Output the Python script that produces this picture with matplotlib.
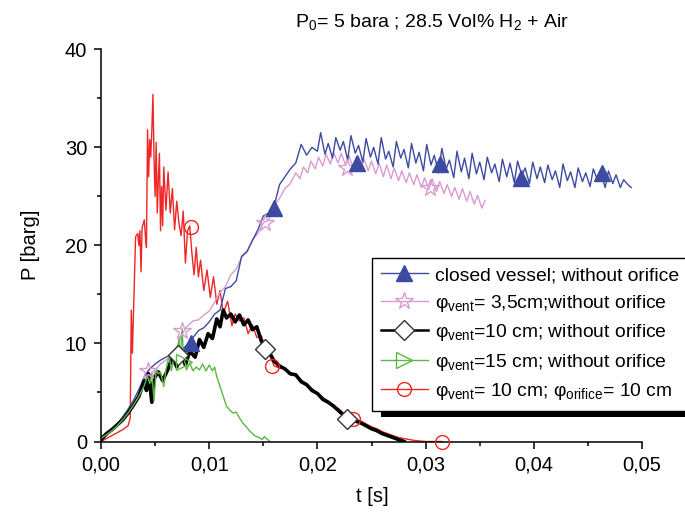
import matplotlib

matplotlib.use("Agg")
import matplotlib.pyplot as plt
from matplotlib.lines import Line2D
from matplotlib.patches import Rectangle

# closed vessel, without orifice
blue_t = [
    0.0000, 0.0005, 0.0010, 0.0015, 0.0020, 0.0025, 0.0030, 0.0035, 0.0040, 0.0045,
    0.0050, 0.0055, 0.0060, 0.0065, 0.0070, 0.0075, 0.0080, 0.0085, 0.0090, 0.0095,
    0.0100, 0.0105, 0.0110, 0.0115, 0.0120, 0.0125, 0.0130, 0.0135, 0.0140, 0.0145,
    0.0150, 0.0155, 0.0160, 0.0165, 0.0170, 0.0175, 0.0180, 0.0185, 0.0190, 0.0195,
    0.0200, 0.0203, 0.0207, 0.0210, 0.0214, 0.0217, 0.0221, 0.0224, 0.0228, 0.0231,
    0.0235, 0.0238, 0.0242, 0.0245, 0.0249, 0.0252, 0.0256, 0.0259, 0.0263, 0.0266,
    0.0270, 0.0273, 0.0277, 0.0280, 0.0284, 0.0287, 0.0291, 0.0294, 0.0298, 0.0301,
    0.0305, 0.0308, 0.0312, 0.0315, 0.0319, 0.0322, 0.0326, 0.0329, 0.0333, 0.0336,
    0.0340, 0.0343, 0.0347, 0.0350, 0.0354, 0.0357, 0.0361, 0.0364, 0.0368, 0.0371,
    0.0375, 0.0378, 0.0382, 0.0385, 0.0389, 0.0392, 0.0396, 0.0399, 0.0403, 0.0406,
    0.0410, 0.0413, 0.0417, 0.0420, 0.0424, 0.0427, 0.0431, 0.0434, 0.0438, 0.0441,
    0.0445, 0.0448, 0.0452, 0.0455, 0.0459, 0.0462, 0.0466, 0.0469, 0.0473, 0.0476,
    0.0480, 0.0483, 0.0487, 0.0490,
]
blue_p = [
    0.0, 0.6, 1.2, 1.8, 2.5, 3.3, 4.2, 5.3, 6.6, 7.4,
    7.9, 8.3, 8.6, 8.9, 9.2, 9.4, 9.9, 10.6, 11.3, 11.6,
    12.2, 13.0, 13.4, 15.6, 15.8, 16.4, 18.9, 19.4, 20.5, 21.6,
    23.0, 23.3, 24.0, 26.2, 27.0, 27.8, 28.4, 30.3, 29.2, 30.0,
    29.6, 31.5, 29.3, 30.4, 28.9, 31.0, 29.7, 30.6, 28.7, 31.2,
    29.4, 30.2, 28.5, 30.9, 29.0, 30.0, 28.3, 31.0, 28.8, 29.6,
    28.0, 30.6, 28.9, 29.8, 27.9, 30.4, 28.4, 29.5, 27.6, 30.3,
    28.2, 29.2, 27.4, 29.9, 27.8, 28.7, 26.9, 29.6, 27.5, 28.9,
    26.8, 29.4, 27.3, 28.5, 26.7, 29.0, 27.4, 28.3, 26.5, 28.8,
    27.0, 28.4, 26.4, 28.6, 27.1, 27.9, 26.3, 28.5, 26.8, 28.0,
    26.4, 28.2, 26.7, 27.6, 25.9, 28.3, 26.6, 27.5, 25.9, 27.9,
    26.5, 27.4, 26.0, 27.8, 26.6, 27.3, 25.9, 27.6, 26.3, 27.2,
    25.9, 26.7, 26.2, 25.9,
]
blue_mark_t = [0.0083, 0.0160, 0.0237, 0.0313, 0.0388, 0.0463]
blue_mark_p = [10.0, 23.8, 28.4, 28.3, 26.9, 27.4]

# vent 3,5 cm, without orifice
pink_t = [
    0.0000, 0.0005, 0.0010, 0.0015, 0.0020, 0.0025, 0.0030, 0.0035, 0.0040, 0.0043,
    0.0046, 0.0050, 0.0055, 0.0060, 0.0065, 0.0070, 0.0075, 0.0080, 0.0085, 0.0090,
    0.0095, 0.0100, 0.0105, 0.0110, 0.0115, 0.0120, 0.0125, 0.0130, 0.0135, 0.0140,
    0.0145, 0.0150, 0.0155, 0.0160, 0.0165, 0.0170, 0.0175, 0.0180, 0.0184, 0.0187,
    0.0191, 0.0194, 0.0198, 0.0201, 0.0205, 0.0208, 0.0212, 0.0215, 0.0219, 0.0222,
    0.0226, 0.0229, 0.0233, 0.0236, 0.0240, 0.0243, 0.0247, 0.0250, 0.0254, 0.0257,
    0.0261, 0.0264, 0.0268, 0.0271, 0.0275, 0.0278, 0.0282, 0.0285, 0.0289, 0.0292,
    0.0296, 0.0299, 0.0303, 0.0306, 0.0310, 0.0313, 0.0317, 0.0320, 0.0324, 0.0327,
    0.0331, 0.0334, 0.0338, 0.0341, 0.0345, 0.0348, 0.0352, 0.0355,
]
pink_p = [
    0.5, 0.9, 1.3, 1.8, 2.4, 3.1, 3.9, 4.9, 6.0, 7.2,
    5.5, 7.3, 7.9, 8.3, 8.8, 9.6, 11.0, 11.8, 12.3, 12.4,
    12.9, 13.3, 14.2, 15.2, 15.8, 17.0, 17.6, 18.8, 19.3, 20.6,
    21.2, 22.3, 22.6, 24.0, 24.8, 25.8, 26.3, 27.4, 26.8, 28.0,
    27.4, 28.6, 27.8, 29.0, 28.1, 29.3, 28.3, 29.5, 28.4, 29.4,
    28.2, 29.2, 27.9, 29.0, 27.7, 28.8, 27.6, 28.6, 27.3, 28.4,
    27.0, 28.2, 26.8, 27.9, 26.6, 27.6, 26.4, 27.4, 26.2, 27.2,
    25.9, 26.9, 25.7, 26.8, 25.5, 26.5, 25.3, 26.2, 25.0, 25.9,
    24.7, 25.8, 24.5, 25.5, 24.2, 25.1, 23.8, 24.6,
]
pink_mark_t = [0.0043, 0.0075, 0.0152, 0.0227, 0.0304]
pink_mark_p = [7.2, 11.3, 22.3, 27.9, 25.9]

# vent 10 cm, without orifice
black_t = [
    0.0000, 0.0005, 0.0010, 0.0015, 0.0020, 0.0025, 0.0030, 0.0035, 0.0040, 0.0042,
    0.0044, 0.0047, 0.0049, 0.0053, 0.0057, 0.0062, 0.0066, 0.0070, 0.0074, 0.0078,
    0.0082, 0.0087, 0.0091, 0.0095, 0.0099, 0.0103, 0.0107, 0.0110, 0.0113, 0.0116,
    0.0120, 0.0124, 0.0128, 0.0132, 0.0136, 0.0140, 0.0144, 0.0148, 0.0152, 0.0156,
    0.0160, 0.0165, 0.0170, 0.0175, 0.0180, 0.0185, 0.0190, 0.0195, 0.0200, 0.0205,
    0.0210, 0.0215, 0.0220, 0.0225, 0.0230, 0.0235, 0.0240, 0.0245, 0.0250, 0.0255,
    0.0260, 0.0265, 0.0270, 0.0275, 0.0280,
]
black_p = [
    0.2, 0.8, 1.2, 1.7, 2.2, 2.9, 3.7, 4.6, 6.2, 5.2,
    6.9, 4.0, 6.4, 7.1, 6.2, 7.4, 8.6, 7.6, 9.0, 7.8,
    9.2, 8.6, 10.4, 9.6, 11.0, 10.5, 12.5, 11.7, 13.4, 12.6,
    13.0, 12.2, 12.9, 11.9, 12.4, 11.4, 11.7, 10.3, 9.4, 9.0,
    8.2, 7.7, 7.4, 6.9, 6.8, 6.1, 5.8, 5.2, 4.9, 4.3,
    4.0, 3.6, 3.1, 2.6, 2.4, 2.1, 1.9, 1.6, 1.3, 1.1,
    0.8, 0.6, 0.4, 0.2, 0.0,
]
black_mark_t = [0.0071, 0.0152, 0.0227]
black_mark_p = [8.8, 9.4, 2.3]

# vent 15 cm, without orifice
green_t = [
    0.0000, 0.0005, 0.0010, 0.0015, 0.0020, 0.0025, 0.0030, 0.0035, 0.0040, 0.0043,
    0.0045, 0.0047, 0.0049, 0.0051, 0.0053, 0.0055, 0.0058, 0.0060, 0.0063, 0.0065,
    0.0068, 0.0070, 0.0072, 0.0073, 0.0075, 0.0076, 0.0079, 0.0082, 0.0085, 0.0088,
    0.0091, 0.0094, 0.0097, 0.0100, 0.0103, 0.0105, 0.0107, 0.0110, 0.0113, 0.0116,
    0.0119, 0.0122, 0.0125, 0.0128, 0.0131, 0.0135, 0.0138, 0.0142, 0.0146, 0.0149,
    0.0151, 0.0153, 0.0156,
]
green_p = [
    0.3, 0.7, 1.1, 1.6, 2.2, 2.9, 3.7, 4.6, 5.7, 6.7,
    5.9, 7.0, 4.2, 7.3, 6.9, 7.1, 5.6, 7.3, 8.8, 7.2,
    9.0, 8.2, 10.5, 8.0, 11.5, 9.0, 7.3, 8.0, 7.2, 7.6,
    7.3, 7.9, 7.2, 7.8, 7.2, 7.6, 6.6, 5.6, 4.6, 3.6,
    3.2, 2.9, 3.0, 2.4, 1.9, 1.4, 1.0, 0.6, 0.4, 0.2,
    0.5, 0.3, 0.0,
]
green_mark_t = [0.0077]
green_mark_p = [8.1]

# vent 10 cm, orifice 10 cm
red_t = [
    0.0000, 0.0005, 0.0010, 0.0015, 0.0020, 0.0025, 0.0027, 0.0028, 0.0029, 0.0031,
    0.0032, 0.0034, 0.0035, 0.0036, 0.0037, 0.0038, 0.0040, 0.0041, 0.0042, 0.0043,
    0.0044, 0.0045, 0.0046, 0.0047, 0.0048, 0.0049, 0.0050, 0.0051, 0.0052, 0.0053,
    0.0054, 0.0055, 0.0056, 0.0057, 0.0058, 0.0060, 0.0062, 0.0064, 0.0066, 0.0068,
    0.0070, 0.0072, 0.0074, 0.0076, 0.0078, 0.0080, 0.0082, 0.0084, 0.0086, 0.0088,
    0.0090, 0.0092, 0.0095, 0.0098, 0.0101, 0.0104, 0.0107, 0.0110, 0.0113, 0.0117,
    0.0121, 0.0124, 0.0128, 0.0132, 0.0136, 0.0140, 0.0144, 0.0148, 0.0152, 0.0156,
    0.0160, 0.0165, 0.0170, 0.0175, 0.0180, 0.0185, 0.0190, 0.0195, 0.0200, 0.0205,
    0.0210, 0.0215, 0.0220, 0.0225, 0.0230, 0.0235, 0.0240, 0.0245, 0.0250, 0.0255,
    0.0260, 0.0265, 0.0270, 0.0275, 0.0280, 0.0285, 0.0290, 0.0300, 0.0315,
]
red_p = [
    0.0, 0.3, 0.6, 0.9, 1.2, 1.6, 2.4, 13.4, 9.0, 17.0,
    20.9, 21.2, 20.0, 21.5, 17.3, 21.8, 22.6, 21.0, 19.8, 31.8,
    27.0, 30.8, 29.0, 31.8, 35.4, 29.0, 25.0, 30.5, 23.3, 26.7,
    29.4, 21.5, 26.0, 22.0, 28.0, 23.6, 27.5, 23.3, 25.8, 21.6,
    24.5, 22.3, 21.0, 23.5, 18.2, 21.5, 22.0, 19.2, 17.0, 19.8,
    16.8, 18.5, 15.4, 17.5, 14.7, 16.8, 14.0, 15.4, 13.1, 14.3,
    11.8, 13.0, 12.3, 12.6, 11.0, 11.9, 10.6, 10.8, 9.6, 8.8,
    7.7, 7.5, 7.4, 7.0, 6.7, 6.3, 5.8, 5.4, 4.9, 4.5,
    4.1, 3.7, 3.3, 2.8, 2.6, 2.3, 2.1, 1.8, 1.5, 1.3,
    1.0, 0.8, 0.6, 0.4, 0.3, 0.2, 0.1, 0.0, 0.0,
]
red_mark_t = [0.0083, 0.0158, 0.0233, 0.0315]
red_mark_p = [21.9, 7.7, 2.3, 0.0]

x_ticks = [0.00, 0.01, 0.02, 0.03, 0.04, 0.05]
x_tick_labels = ["0,00", "0,01", "0,02", "0,03", "0,04", "0,05"]
y_ticks = [0, 10, 20, 30, 40]
y_tick_labels = ["0", "10", "20", "30", "40"]

labels = [
    "closed vessel; without orifice",
    r"φ$_{\mathrm{vent}}$= 3,5cm;without orifice",
    r"φ$_{\mathrm{vent}}$=10 cm; without orifice",
    r"φ$_{\mathrm{vent}}$=15 cm; without orifice",
    r"φ$_{\mathrm{vent}}$= 10 cm; φ$_{\mathrm{orifice}}$= 10 cm",
]

BLUE = "#3d4aa2"
PINK = "#d99bd0"
GREEN = "#5ab843"
RED = "#ee2624"

plt.rcParams["font.family"] = ["Liberation Sans", "DejaVu Sans"]
plt.rcParams["mathtext.fontset"] = "custom"
plt.rcParams["mathtext.rm"] = "Liberation Sans"
plt.rcParams["mathtext.it"] = "Liberation Sans:italic"


def main() -> None:
    fig = plt.figure(figsize=(6.85, 5.12), dpi=100)
    ax = fig.add_axes([101 / 685, 1 - 441.5 / 512, 541 / 685, 392.2 / 512])

    ax.plot(red_t, red_p, color=RED, lw=1.0, zorder=2)
    ax.plot(pink_t, pink_p, color=PINK, lw=1.0, zorder=2.1)
    ax.plot(blue_t, blue_p, color=BLUE, lw=1.0, zorder=2.2)
    ax.plot(black_t, black_p, color="black", lw=2.6, zorder=2.3)
    ax.plot(green_t, green_p, color=GREEN, lw=1.0, zorder=2.4)

    ax.plot(red_mark_t, red_mark_p, ls="none", marker="o", ms=10, mfc="none", mec=RED, mew=1.0, zorder=3, clip_on=False)
    ax.plot(pink_mark_t, pink_mark_p, ls="none", marker="*", ms=13, mfc="none", mec=PINK, mew=1.0, zorder=3)
    ax.plot(blue_mark_t, blue_mark_p, ls="none", marker="^", ms=11, mfc=BLUE, mec=BLUE, zorder=3)
    ax.plot(black_mark_t, black_mark_p, ls="none", marker="D", ms=10, mfc="white", mec="#333333", mew=1.0, zorder=3)
    ax.plot(green_mark_t, green_mark_p, ls="none", marker=">", ms=11, mfc="none", mec=GREEN, mew=1.0, zorder=3)

    ax.set_xlim(0, 0.05)
    ax.set_ylim(0, 40)
    ax.set_xticks(x_ticks)
    ax.set_xticklabels(x_tick_labels)
    ax.set_yticks(y_ticks)
    ax.set_yticklabels(y_tick_labels)
    ax.set_xticks([0.005, 0.015, 0.025, 0.035, 0.045], minor=True)
    ax.set_yticks([5, 15, 25, 35], minor=True)
    ax.tick_params(which="major", direction="out", length=5, width=1.1, labelsize=14.5, pad=5)
    ax.tick_params(which="minor", direction="out", length=3, width=1.1)
    ax.spines["top"].set_visible(False)
    ax.spines["right"].set_visible(False)
    ax.spines["left"].set_linewidth(1.1)
    ax.spines["bottom"].set_linewidth(1.1)

    fig.text(432 / 685, 1 - 22 / 512, r"P$_0$= 5 bara ; 28.5 Vol% H$_2$ + Air", ha="center", va="center", fontsize=14)
    fig.text(30 / 685, 1 - 245 / 512, "P [barg]", rotation=90, ha="center", va="center", fontsize=14.5)
    fig.text(372 / 685, 1 - 497 / 512, "t [s]", ha="center", va="center", fontsize=14.5)

    handles = [
        Line2D([], [], color=BLUE, lw=1.0, marker="^", ms=11, mfc=BLUE, mec=BLUE),
        Line2D([], [], color=PINK, lw=1.0, marker="*", ms=13, mfc="none", mec=PINK),
        Line2D([], [], color="black", lw=1.8, marker="D", ms=10, mfc="white", mec="#333333"),
        Line2D([], [], color=GREEN, lw=1.0, marker=">", ms=11, mfc="none", mec=GREEN),
        Line2D([], [], color=RED, lw=1.0, marker="o", ms=10, mfc="none", mec=RED),
    ]
    leg = fig.legend(
        handles, labels,
        loc="upper left", bbox_to_anchor=(372 / 685, 1 - 258 / 512), borderaxespad=0,
        fontsize=13.9, frameon=True, fancybox=False, edgecolor="black", framealpha=1,
        handlelength=2.45, handletextpad=0.37, labelspacing=0.44, borderpad=0.45,
    )
    leg.get_frame().set_linewidth(1.0)

    # solid black drop shadow, offset right/down, drawn under the legend
    fig.canvas.draw()
    box = leg.get_window_extent(fig.canvas.get_renderer())
    shadow = Rectangle(
        ((box.x0 + 9) / 685, (box.y0 - 6) / 512), box.width / 685, box.height / 512,
        transform=fig.transFigure, facecolor="black", edgecolor="none", lw=0, zorder=4,
    )
    fig.patches.append(shadow)

    fig.savefig("out.png", dpi=100)
    plt.close(fig)


if __name__ == "__main__":
    main()
